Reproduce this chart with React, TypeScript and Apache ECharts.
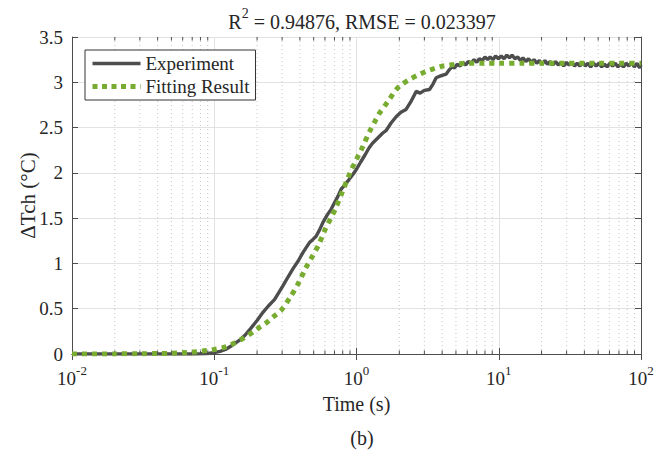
import React, { useEffect, useRef } from "react";
import * as echarts from "echarts";

// Experiment (time in s, ΔTch in °C)
const expTime = [
  0.01, 0.015, 0.02, 0.03, 0.04, 0.05, 0.06, 0.07, 0.08, 0.09, 0.1, 0.11, 0.12, 0.135, 0.15, 0.165, 0.18, 0.2,
  0.22, 0.24, 0.265, 0.285, 0.303, 0.33, 0.357, 0.39, 0.42, 0.445, 0.467, 0.49, 0.52, 0.55, 0.58, 0.62, 0.664,
  0.7, 0.74, 0.78, 0.82, 0.88, 0.94, 1.0, 1.07, 1.15, 1.23, 1.3, 1.4, 1.53, 1.62, 1.75, 1.9, 2.05, 2.23, 2.4,
  2.63, 2.8, 3.0, 3.26, 3.45, 3.63, 3.9, 4.27,
  4.5, 4.7, 4.9, 5.1, 5.35, 5.6, 5.85, 6.1, 6.4, 6.7, 7.0, 7.3, 7.65, 8.0, 8.35, 8.7, 9.1, 9.5, 9.95, 10.4, 10.9,
  11.4, 11.9, 12.4, 13.0, 13.6, 14.2, 14.8, 15.5, 16.2, 16.9, 17.7, 18.5, 19.3, 20.2, 21.1, 22.0, 23.0, 24.0, 25.1,
  26.2, 27.4, 28.6, 29.9, 31.2, 32.6, 34.1, 35.6, 37.2, 38.9, 40.6, 42.4, 44.3, 46.3, 48.4, 50.6, 52.9, 55.3, 57.8,
  60.4, 63.1, 65.9, 68.9, 72.0, 75.2, 78.6, 82.1, 85.8, 89.7, 93.7, 97.9, 100,
];
const expValue = [
  0, 0, 0, 0, 0, 0, 0, 0, 0.002, 0.006, 0.015, 0.03, 0.05, 0.1, 0.15, 0.21, 0.28, 0.37,
  0.46, 0.53, 0.6, 0.68, 0.75, 0.85, 0.94, 1.03, 1.12, 1.18, 1.23, 1.26, 1.3, 1.37, 1.45, 1.53, 1.6,
  1.67, 1.74, 1.82, 1.86, 1.92, 1.98, 2.04, 2.12, 2.2, 2.28, 2.33, 2.38, 2.44, 2.47, 2.55, 2.62, 2.67, 2.7, 2.78,
  2.9, 2.88, 2.91, 2.92, 2.98, 3.05, 3.07, 3.09,
  3.14, 3.17, 3.16, 3.2, 3.18, 3.22, 3.19, 3.23, 3.21, 3.25, 3.22, 3.26, 3.24, 3.28, 3.25, 3.28, 3.25, 3.29, 3.26, 3.29, 3.26,
  3.3, 3.27, 3.3, 3.26, 3.28, 3.24, 3.27, 3.23, 3.26, 3.22, 3.25, 3.21, 3.24, 3.2, 3.24, 3.2, 3.23, 3.19, 3.23,
  3.19, 3.22, 3.18, 3.22, 3.19, 3.22, 3.18, 3.21, 3.18, 3.22, 3.18, 3.21, 3.17, 3.21, 3.18, 3.21, 3.17, 3.2, 3.17,
  3.21, 3.18, 3.21, 3.17, 3.2, 3.17, 3.21, 3.18, 3.22, 3.17, 3.21, 3.16, 3.19,
];

// Fitting result
const fitTime = [
  0.01, 0.02, 0.03, 0.04, 0.05, 0.06, 0.07, 0.08, 0.09, 0.1, 0.115, 0.13, 0.15, 0.17, 0.19, 0.21, 0.235, 0.26,
  0.296, 0.34, 0.387, 0.44, 0.49, 0.543, 0.6, 0.65, 0.709, 0.8, 0.9, 1.0, 1.107, 1.23, 1.35, 1.45, 1.58, 1.7,
  1.9, 2.1, 2.36, 2.7, 3.09, 3.5, 4.04, 4.5, 5, 6, 8, 10, 15, 20, 30, 50, 70, 100,
];
const fitValue = [
  0, 0.001, 0.003, 0.005, 0.008, 0.013, 0.02, 0.03, 0.04, 0.05, 0.07, 0.1, 0.15, 0.2, 0.25, 0.3, 0.35, 0.41,
  0.485, 0.62, 0.77, 0.95, 1.08, 1.21, 1.37, 1.48, 1.6, 1.8, 2.0, 2.15, 2.29, 2.45, 2.57, 2.66, 2.74, 2.81,
  2.92, 2.98, 3.03, 3.08, 3.12, 3.15, 3.18, 3.19, 3.2, 3.21, 3.21, 3.21, 3.21, 3.21, 3.21, 3.21, 3.21, 3.21,
];

const xMin = 0.01;
const xMax = 100;
const yMin = 0;
const yMax = 3.5;
const yInterval = 0.5;
const seriesNames = ["Experiment", "Fitting Result"];
const titleMain = ["R", "2", " = 0.94876, RMSE = 0.023397"];
const xName = "Time (s)";
const yName = "ΔTch (°C)";
const caption = "(b)";

const FONT = "'Liberation Serif', 'Times New Roman', serif";
const TEXT = "#262626";
const AXIS = "#4d4d4d";
const GRAY = "#4d4d4d";
const GREEN = "#77ac30";

// minor tick positions 2..9 x 10^k
const minorTicks: number[] = [];
for (let k = -2; k < 2; k++) {
  for (let m = 2; m <= 9; m++) minorTicks.push(m * Math.pow(10, k));
}

export default function App() {
  const ref = useRef<HTMLDivElement>(null);
  useEffect(() => {
    if (!ref.current) return;
    const chart = echarts.init(ref.current, null, { renderer: "svg" });
    const supRich = {
      b: { fontFamily: FONT, fontSize: 19, color: TEXT, lineHeight: 24, verticalAlign: "bottom" },
      s: { fontFamily: FONT, fontSize: 13, color: TEXT, lineHeight: 12, verticalAlign: "top" },
    };
    chart.setOption({
      animation: false,
      backgroundColor: "#fff",
      title: [
        {
          text: `{a|${titleMain[0]}}{s|${titleMain[1]}}{a|${titleMain[2]}}`,
          left: 357,
          top: 1,
          textAlign: "center",
          textStyle: {
            fontWeight: "normal",
            rich: {
              a: { fontFamily: FONT, fontSize: 20, fontWeight: "normal", color: TEXT, lineHeight: 26, verticalAlign: "bottom" },
              s: { fontFamily: FONT, fontSize: 14, fontWeight: "normal", color: TEXT, lineHeight: 14, verticalAlign: "top" },
            },
          },
        },
        {
          text: caption,
          left: 357,
          top: 423,
          textAlign: "center",
          textStyle: { fontFamily: FONT, fontSize: 20, fontWeight: "normal", color: TEXT },
        },
      ],
      legend: {
        data: [
          { name: seriesNames[0], lineStyle: { width: 3.6, color: GRAY, type: "solid" } },
          { name: seriesNames[1], lineStyle: { width: 5, color: GREEN, type: [5, 4.5], cap: "butt" } },
        ],
        orient: "vertical",
        left: 85,
        top: 50,
        padding: [4, 6, 4, 5],
        itemGap: 4,
        itemWidth: 48,
        itemHeight: 14,
        backgroundColor: "#fff",
        borderColor: "#333",
        borderWidth: 1,
        borderRadius: 0,
        itemStyle: { opacity: 0 },
        textStyle: { fontFamily: FONT, fontSize: 19, color: TEXT },
      },
      grid: { left: 72, right: 27, top: 37, bottom: 103, containLabel: false },
      xAxis: [
        {
          type: "log",
          logBase: 10,
          min: xMin,
          max: xMax,
          name: xName,
          nameLocation: "middle",
          nameGap: 40,
          nameMoveOverlap: false,
          nameTextStyle: { fontFamily: FONT, fontSize: 20, color: TEXT },
          axisLine: { show: true, lineStyle: { color: AXIS, width: 1 } },
          axisTick: { show: true, inside: true, length: 6, lineStyle: { color: AXIS } },
          axisLabel: {
            margin: 10,
            formatter: (v: number) => `{b|10}{s|${Math.round(Math.log10(v))}}`,
            rich: supRich,
          },
          splitLine: { show: true, lineStyle: { color: "#e2e2e2", width: 1 } },
        },
        {
          type: "log",
          logBase: 10,
          min: xMin,
          max: xMax,
          position: "top",
          axisLine: { show: true, lineStyle: { color: AXIS, width: 1 } },
          axisTick: { show: true, inside: true, length: 6, lineStyle: { color: AXIS } },
          axisLabel: { show: false },
          splitLine: { show: false },
        },
      ],
      yAxis: [
        {
          type: "value",
          min: yMin,
          max: yMax,
          interval: yInterval,
          name: yName,
          nameLocation: "middle",
          nameGap: 34,
          nameMoveOverlap: false,
          nameRotate: 90,
          nameTextStyle: { fontFamily: FONT, fontSize: 21, color: TEXT },
          axisLine: { show: true, lineStyle: { color: AXIS, width: 1 } },
          axisTick: { show: true, inside: true, length: 6, lineStyle: { color: AXIS } },
          axisLabel: { fontFamily: FONT, fontSize: 19, color: TEXT, margin: 9 },
          splitLine: { show: true, lineStyle: { color: "#e2e2e2", width: 1 } },
        },
        {
          type: "value",
          min: yMin,
          max: yMax,
          interval: yInterval,
          position: "right",
          axisLine: { show: true, lineStyle: { color: AXIS, width: 1 } },
          axisTick: { show: true, inside: true, length: 6, lineStyle: { color: AXIS } },
          axisLabel: { show: false },
          splitLine: { show: false },
        },
      ],
      series: [
        {
          type: "custom",
          name: "minor",
          xAxisIndex: 0,
          yAxisIndex: 0,
          silent: true,
          z: 1,
          data: minorTicks.map((v) => [v, 0]),
          encode: { x: 0, y: 1 },
          renderItem: (params: any, api: any) => {
            const p = api.coord([api.value(0), 0]);
            const cs = params.coordSys;
            const top = cs.y;
            const bottom = cs.y + cs.height;
            return {
              type: "group",
              children: [
                {
                  type: "line",
                  shape: { x1: p[0], y1: top, x2: p[0], y2: bottom },
                  style: { stroke: "#c4c4c4", lineWidth: 1, lineDash: [1, 3] },
                },
                {
                  type: "line",
                  shape: { x1: p[0], y1: bottom, x2: p[0], y2: bottom - 3.5 },
                  style: { stroke: AXIS, lineWidth: 1 },
                },
                {
                  type: "line",
                  shape: { x1: p[0], y1: top, x2: p[0], y2: top + 3.5 },
                  style: { stroke: AXIS, lineWidth: 1 },
                },
              ],
            };
          },
        },
        {
          type: "line",
          name: seriesNames[0],
          data: expTime.map((t, i) => [t, expValue[i]]),
          symbol: "none",
          z: 3,
          lineStyle: { color: GRAY, width: 3.4 },
          itemStyle: { color: GRAY },
        },
        {
          type: "line",
          name: seriesNames[1],
          data: fitTime.map((t, i) => [t, fitValue[i]]),
          symbol: "none",
          z: 4,
          smooth: 0.3,
          lineStyle: { color: GREEN, width: 5, type: [5, 5], cap: "butt" },
          itemStyle: { color: GREEN },
        },
      ],
    });
    return () => chart.dispose();
  }, []);
  return (
    <div
      ref={ref}
      style={{ position: "fixed", left: 0, top: 0, width: 668, height: 457 }}
    />
  );
}
